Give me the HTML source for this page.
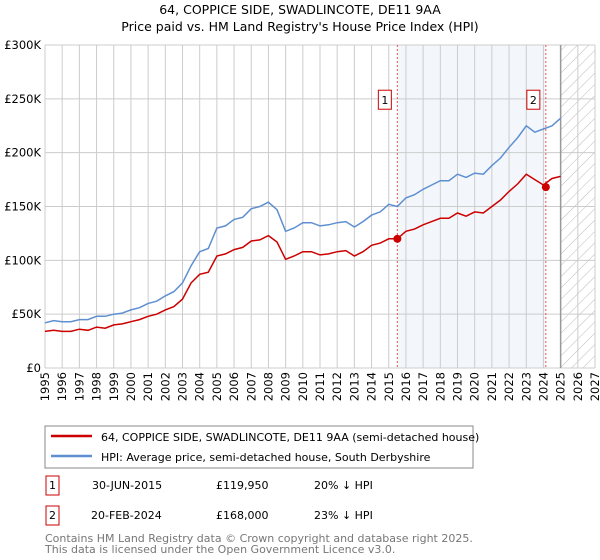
<!DOCTYPE html>
<html><head><meta charset="utf-8"><style>body{margin:0;background:#fff}svg{display:block;font-family:"DejaVu Sans","Liberation Sans",sans-serif}</style></head>
<body>
<svg id="c" width="600" height="560" viewBox="0 0 600 560">
<defs><pattern id="hatch" width="8" height="8" patternUnits="userSpaceOnUse" patternTransform="rotate(45)"><line x1="0" y1="0" x2="0" y2="8" stroke="#bbb" stroke-width="1"/></pattern></defs>
<text x="300" y="14" text-anchor="middle" font-size="12.5">64, COPPICE SIDE, SWADLINCOTE, DE11 9AA</text>
<text x="300" y="31" text-anchor="middle" font-size="12.5">Price paid vs. HM Land Registry's House Price Index (HPI)</text>
<g id="plot"></g>
<rect x="45" y="426" width="428" height="42" fill="#fff" stroke="#888"/>
<line x1="51" y1="436" x2="92" y2="436" stroke="#cc0000" stroke-width="2.5"/>
<text x="101" y="441" font-size="11">64, COPPICE SIDE, SWADLINCOTE, DE11 9AA (semi-detached house)</text>
<line x1="51" y1="456" x2="92" y2="456" stroke="#5f8fd0" stroke-width="2.5"/>
<text x="101" y="461" font-size="11">HPI: Average price, semi-detached house, South Derbyshire</text>
<g font-size="11">
<rect x="46" y="476" width="13" height="19" fill="#fff" stroke="#cc0000"/>
<text x="52.5" y="489" text-anchor="middle">1</text>
<text x="92" y="489">30-JUN-2015</text>
<text x="216" y="489">£119,950</text>
<text x="314" y="489">20% ↓ HPI</text>
<rect x="46" y="506" width="13" height="19" fill="#fff" stroke="#cc0000"/>
<text x="52.5" y="519" text-anchor="middle">2</text>
<text x="91" y="519">20-FEB-2024</text>
<text x="216" y="519">£168,000</text>
<text x="314" y="519">23% ↓ HPI</text>
</g>
<text x="45" y="542" font-size="11" fill="#777">Contains HM Land Registry data © Crown copyright and database right 2025.</text>
<text x="45" y="553" font-size="11" fill="#777">This data is licensed under the Open Government Licence v3.0.</text>
</svg>
<script>
const years=[1995,1995.5,1996,1996.5,1997,1997.5,1998,1998.5,1999,1999.5,2000,2000.5,2001,2001.5,2002,2002.5,2003,2003.5,2004,2004.5,2005,2005.5,2006,2006.5,2007,2007.5,2008,2008.5,2009,2009.5,2010,2010.5,2011,2011.5,2012,2012.5,2013,2013.5,2014,2014.5,2015,2015.5,2016,2016.5,2017,2017.5,2018,2018.5,2019,2019.5,2020,2020.5,2021,2021.5,2022,2022.5,2023,2023.5,2024,2024.5,2025];
const hpi=[42,44,43,43,45,45,48,48,50,51,54,56,60,62,67,71,79,95,108,111,130,132,138,140,148,150,154,147,127,130,135,135,132,133,135,136,131,136,142,145,152,150,158,161,166,170,174,174,180,177,181,180,188,195,205,214,225,219,222,225,232];
const price=[34,35,34,34,36,35,38,37,40,41,43,45,48,50,54,57,64,79,87,89,104,106,110,112,118,119,123,117,101,104,108,108,105,106,108,109,104,108,114,116,120,120,127,129,133,136,139,139,144,141,145,144,150,156,164,171,180,175,170,176,178];
const xTicks=[1995,1996,1997,1998,1999,2000,2001,2002,2003,2004,2005,2006,2007,2008,2009,2010,2011,2012,2013,2014,2015,2016,2017,2018,2019,2020,2021,2022,2023,2024,2025,2026,2027];
const yTicks=[0,50,100,150,200,250,300];
const yLabels=["£0","£50K","£100K","£150K","£200K","£250K","£300K"];
const saleYears=[2015.5,2024.14];
const salePrices=[119.95,168];
const saleLabels=["1","2"];
const X0=45,X1=595,Y0=368,Y1=45;
const xs=y=>X0+(y-1995)/(2027-1995)*(X1-X0);
const ys=v=>Y0-v/300*(Y0-Y1);
const NS='http://www.w3.org/2000/svg';
const g=document.getElementById('plot');
function mk(t,a){const e=document.createElementNS(NS,t);for(const k in a)e.setAttribute(k,a[k]);g.appendChild(e);return e;}
let r=mk('rect',{x:xs(saleYears[0]),y:Y1,width:xs(saleYears[1])-xs(saleYears[0]),height:Y0-Y1,fill:'#eef3fb',opacity:0.7});


r=mk('rect',{x:xs(2025),y:Y1,width:X1-xs(2025),height:Y0-Y1,fill:'url(#hatch)'});


xTicks.forEach(t=>{const l=mk('line',{x1:xs(t),x2:xs(t),y1:Y1,y2:Y0,stroke:'#ccc'});


const tx=mk('text',{x:0,y:0,transform:`translate(${xs(t)+4},${Y0+4}) rotate(-90)`,'text-anchor':'end','font-size':'11.5'});
tx.textContent=t;

});
yTicks.forEach((t,i)=>{const l=mk('line',{x1:X0,x2:X1,y1:ys(t),y2:ys(t),stroke:'#ccc'});


const tx=mk('text',{x:X0-4,y:ys(t)+4,'text-anchor':'end','font-size':'11.5'});
tx.textContent=yLabels[i];

});
let l=mk('line',{x1:xs(2025),x2:xs(2025),y1:Y1,y2:Y0,stroke:'#999','stroke-width':1.5});


saleYears.forEach((s,i)=>{const d=mk('line',{x1:xs(s),x2:xs(s),y1:Y1,y2:Y0,stroke:'#e55','stroke-dasharray':'2,2'});


const b=mk('rect',{x:xs(s)-19,y:ys(258),width:13,height:19,fill:'#fff',stroke:'#cc0000'});


const t=mk('text',{x:xs(s)-12.5,y:ys(258)+14,'text-anchor':'middle','font-size':'11'});t.textContent=saleLabels[i];

});
function path(arr,c,n){const p=mk('path',{d:arr.map((v,i)=>(i?'L':'M')+xs(years[i]).toFixed(1)+','+ys(v).toFixed(1)).join(''),fill:'none',stroke:c,'stroke-width':1.5});

}
path(hpi,'#5f8fd0','hpi-line');
path(price,'#cc0000','price-line');
saleYears.forEach((s,i)=>{const c=mk('circle',{cx:xs(s),cy:ys(salePrices[i]),r:4,fill:'#cc0000'});

});
</script>
</body></html>
